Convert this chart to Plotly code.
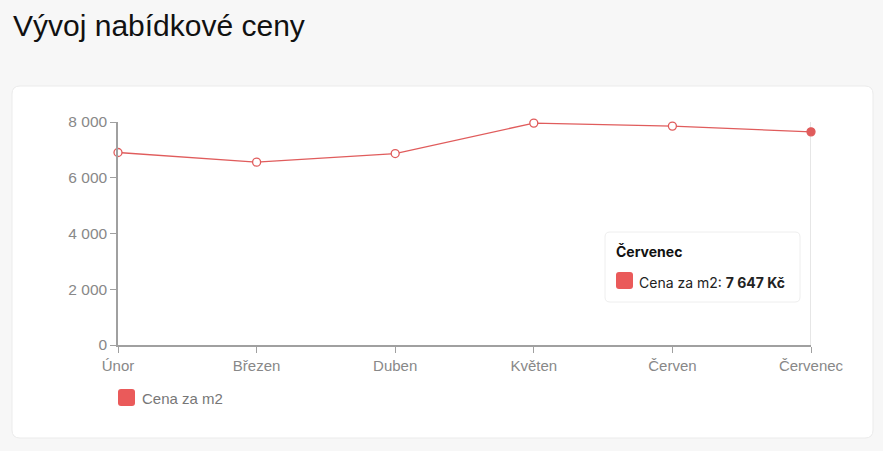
import plotly.graph_objects as go

months = ["Únor", "Březen", "Duben", "Květen", "Červen", "Červenec"]
price_m2 = [6905, 6560, 6869, 7960, 7853, 7647]
y_ticks = [0, 2000, 4000, 6000, 8000]
y_tick_labels = ["0", "2 000", "4 000", "6 000", "8 000"]
series_name = "Cena za m2"
title_text = "Vývoj nabídkové ceny"
hover_index = 5

W, H = 883, 451
FONT = "Liberation Sans, Arial, sans-serif"
TFONT = "Inter, Roboto, sans-serif"
RED = "#e05c5c"
SQ = "#ea5a5a"


def px(x):
    return x / W


def py(y):
    return 1 - y / H


def rrect(x0, y0, x1, y1, r):
    # rounded rectangle path in paper coordinates from pixel values
    rx, ry = r / W, r / H
    X0, X1 = px(x0), px(x1)
    Y0, Y1 = py(y0), py(y1)  # Y0 top (bigger), Y1 bottom
    return (f"M {X0+rx},{Y0} L {X1-rx},{Y0} Q {X1},{Y0} {X1},{Y0-ry} "
            f"L {X1},{Y1+ry} Q {X1},{Y1} {X1-rx},{Y1} "
            f"L {X0+rx},{Y1} Q {X0},{Y1} {X0},{Y1+ry} "
            f"L {X0},{Y0-ry} Q {X0},{Y0} {X0+rx},{Y0} Z")


fig = go.Figure()

fig.add_trace(go.Scatter(
    x=list(range(len(months))), y=price_m2, mode="lines+markers",
    line=dict(color=RED, width=1.3),
    marker=dict(size=8, color=["white"] * (len(months) - 1) + [RED],
                line=dict(color=RED, width=1.3)),
    cliponaxis=False, showlegend=False, hoverinfo="skip",
))

shapes = [
    dict(type="path", xref="paper", yref="paper", path=rrect(12, 86, 873, 438, 8),
         fillcolor="white", line=dict(color="#ebebeb", width=1), layer="below"),
    # hover crosshair
    dict(type="line", xref="x", yref="y", x0=hover_index, x1=hover_index, y0=0, y1=8000,
         line=dict(color="#cccccc", width=1), layer="below"),
    # tooltip box
    dict(type="path", xref="paper", yref="paper", path=rrect(605, 232, 800, 302, 5),
         fillcolor="white", line=dict(color="#eeeeee", width=1)),
    dict(type="path", xref="paper", yref="paper", path=rrect(616, 272, 633, 289, 3),
         fillcolor=SQ, line=dict(width=0)),
    # legend square
    dict(type="path", xref="paper", yref="paper", path=rrect(118, 389, 135, 406, 3),
         fillcolor=SQ, line=dict(width=0)),
]

annotations = [
    dict(text=title_text, xref="paper", yref="paper", x=px(11), y=py(26),
         xanchor="left", yanchor="middle", showarrow=False,
         font=dict(family=FONT, size=30, color="#111111")),
    dict(text=f"<b>{months[hover_index]}</b>", xref="paper", yref="paper", x=px(614), y=py(252),
         xanchor="left", yanchor="middle", showarrow=False,
         font=dict(family=TFONT, size=14, color="#111111")),
    dict(text=f"{series_name}: <b>{price_m2[hover_index]:,} Kč</b>".replace(",", " "),
         xref="paper", yref="paper", x=px(637), y=py(282),
         xanchor="left", yanchor="middle", showarrow=False,
         font=dict(family=TFONT, size=14, color="#222222")),
    dict(text=series_name, xref="paper", yref="paper", x=px(140), y=py(398),
         xanchor="left", yanchor="middle", showarrow=False,
         font=dict(family=FONT, size=15, color="#777777")),
]

fig.update_layout(
    width=W, height=H,
    margin=dict(l=0, r=0, t=0, b=0, pad=0, autoexpand=False),
    paper_bgcolor="#f7f7f7", plot_bgcolor="rgba(0,0,0,0)",
    shapes=shapes, annotations=annotations,
    xaxis=dict(domain=[px(118), px(811)], range=[0, len(months) - 1],
               tickvals=list(range(len(months))), ticktext=months,
               showgrid=False, zeroline=False, showline=True,
               linecolor="#a0a0a0", linewidth=1.5, automargin=False,
               ticks="outside", ticklen=6, tickcolor="#a0a0a0", tickwidth=1,
               tickfont=dict(family=FONT, size=15, color="#888888"),
               fixedrange=True),
    yaxis=dict(domain=[py(345), py(122)], range=[0, 8000],
               tickvals=y_ticks, ticktext=y_tick_labels,
               showgrid=False, zeroline=False, showline=True,
               linecolor="#a0a0a0", linewidth=1.5, automargin=False,
               ticks="outside", ticklen=6, tickcolor="#a0a0a0", tickwidth=1,
               tickfont=dict(family=FONT, size=15.5, color="#888888"),
               fixedrange=True),
    showlegend=False,
)

fig.write_html("out.html", config={"displayModeBar": False},
               post_script="document.body.style.margin='0';document.body.style.overflow='hidden';")
